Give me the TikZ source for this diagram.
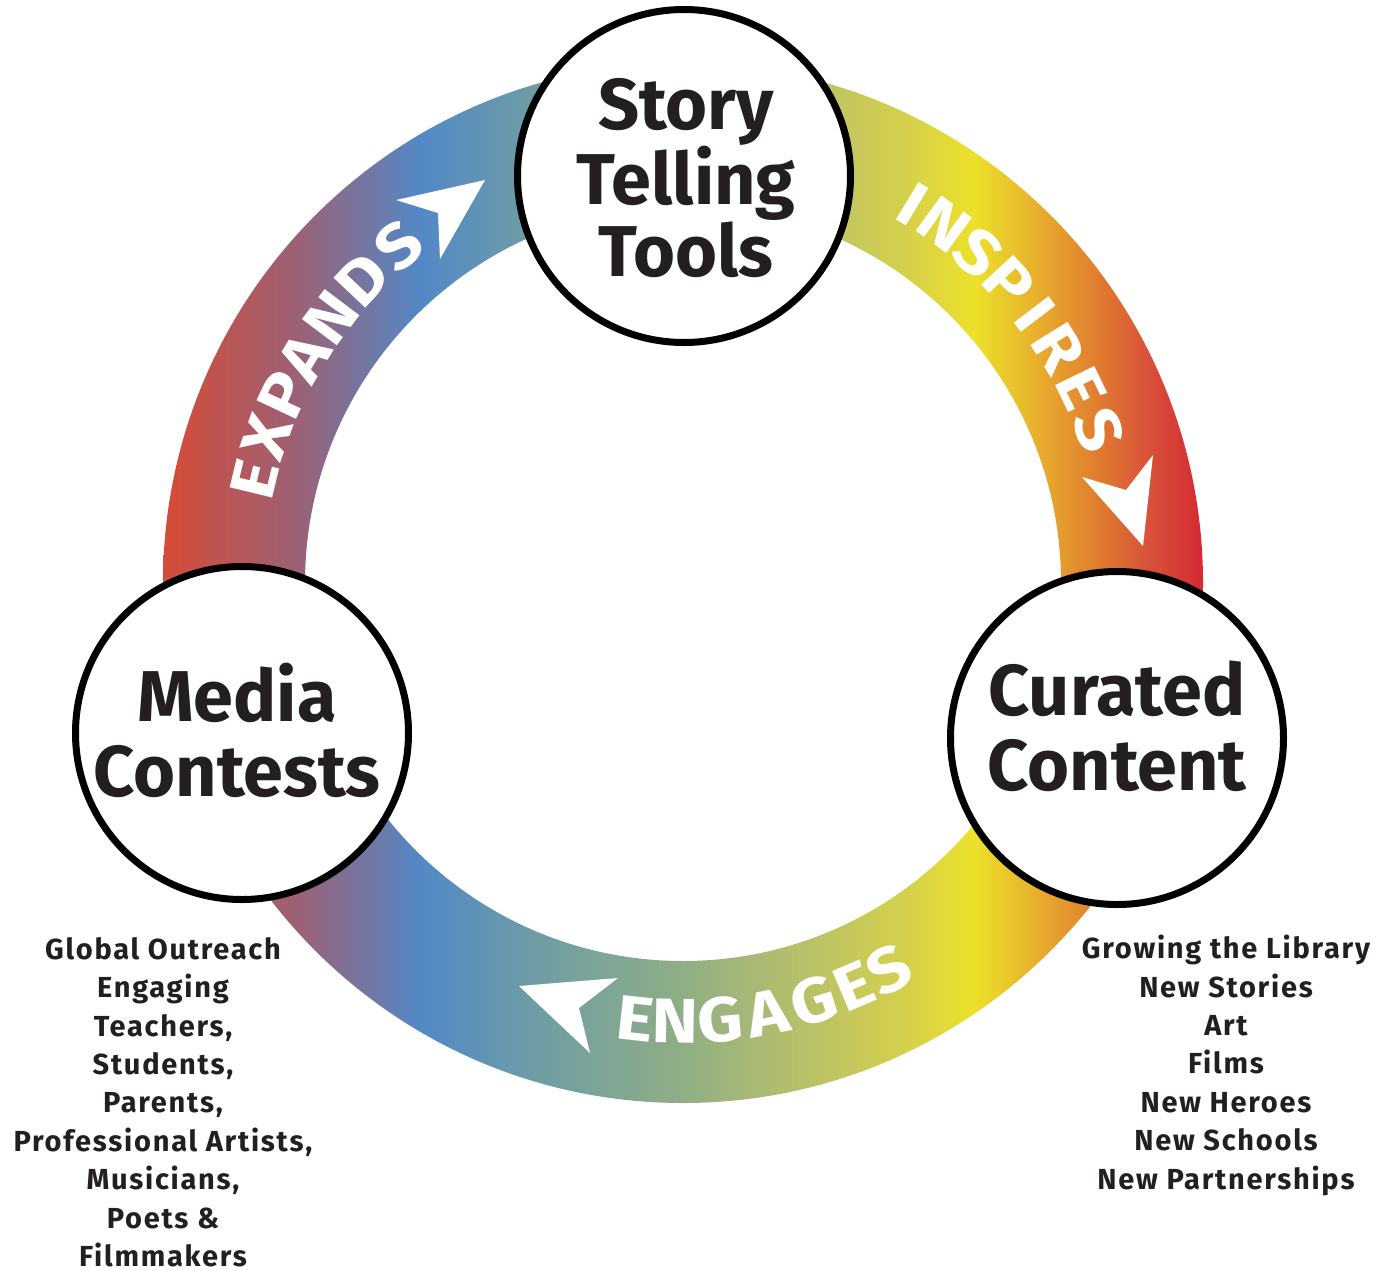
\documentclass[tikz,border=0pt]{standalone}
\usepackage{fontspec}
\setmainfont{Fira Sans}
\newfontfamily\ringfont{Fira Sans}[FakeStretch=1.12]
\newfontfamily\listfont{Fira Sans}[LetterSpace=6]
\definecolor{txt}{HTML}{231F20}
\definecolor{c0}{HTML}{D64B36}
\definecolor{c1}{HTML}{9A6278}
\definecolor{c2}{HTML}{5288C6}
\definecolor{c3}{HTML}{6D9CA6}
\definecolor{c4}{HTML}{8FAE86}
\definecolor{c5}{HTML}{B7C06A}
\definecolor{c6}{HTML}{D3CF4E}
\definecolor{c7}{HTML}{EDE12A}
\definecolor{c8}{HTML}{E6A52E}
\definecolor{c9}{HTML}{E07A2F}
\definecolor{c10}{HTML}{D8503A}
\definecolor{c11}{HTML}{D32A33}
\pgfdeclarehorizontalshading{ringshade}{100bp}{color(0bp)=(c0); color(25bp)=(c0); color(31.6bp)=(c1); color(37.4bp)=(c2); color(42.6bp)=(c3); color(49.8bp)=(c4); color(55.6bp)=(c5); color(60.4bp)=(c6); color(64bp)=(c7); color(67.6bp)=(c8); color(70.05bp)=(c9); color(72.45bp)=(c10); color(75bp)=(c11); color(100bp)=(c11)}
\begin{document}
\begin{tikzpicture}[x=1pt,y=1pt,
  bubble/.style={circle, draw=black, line width=7pt, fill=white, minimum size=333pt, inner sep=0pt},
  bigtext/.style={align=center, text=txt, inner sep=0pt, font=\bfseries\fontsize{72}{#1}\selectfont},
  bigtext/.default=70,
  ringletter/.style={text=white, inner sep=0pt, font=\ringfont\bfseries\fontsize{63}{63}\selectfont},
  listtext/.style={align=center, text=txt, inner sep=0pt, anchor=north, font=\listfont\bfseries\fontsize{29}{38.4}\selectfont},
  arrowhead/.style={fill=white}]
\useasboundingbox (0,0) rectangle (1397,-1270);
\fill[white] (0,0) rectangle (1397,-1270);
\coordinate (ringc) at (683,-583);
% gradient ring
\shade[shading=ringshade, even odd rule] (ringc) circle[radius=520] (ringc) circle[radius=378];
% ring words
\foreach \l/\a [count=\i] in {E/166.4, X/160.6, P/154.8, A/149.2, N/143.0, D/136.6, S/130.2}
  \node[ringletter, rotate={\a-90}] (exp\i) at ([shift={(\a:441)}]ringc) {\l};
\foreach \l/\a [count=\i] in {I/58.8, N/53.9, S/48.3, P/42.7, I/37.3, R/32.0, E/26.0, S/20.2}
  \node[ringletter, rotate={\a-90}] (ins\i) at ([shift={(\a:443)}]ringc) {\l};
\foreach \l/\a [count=\i] in {E/-96.2, N/-91.0, G/-85.1, A/-78.8, G/-72.6, E/-67.0, S/-61.9}
  \node[ringletter, rotate={\a+90}] (eng\i) at ([shift={(\a:438)}]ringc) {\l};
% arrowheads
\fill[arrowhead] (485,-180) -- (396,-200) -- (438,-213) -- (440,-259) -- cycle;
\fill[arrowhead] (1143,-546) -- (1082,-477) -- (1126,-490) -- (1153,-455) -- cycle;
\fill[arrowhead] (519,-986) -- (618,-978) -- (579,-1008) -- (590,-1053) -- cycle;
% circles
\node[bubble] (story) at (684,-176) {};
\node[bubble] (media) at (242,-733) {};
\node[bubble] (curated) at (1117,-738) {};
\node[bigtext] (storytxt) at ([shift={(2,-2)}]story.center) {Story\\Telling\\Tools};
\node[bigtext=75] (mediatxt) at ([shift={(-5,3)}]media.center) {Media\\Contests};
\node[bigtext=75] (curatedtxt) at ([shift={(0,12)}]curated.center) {Curated\\Content};
% lists
\node[listtext] (leftlist) at (163,-937) {Global Outreach\\Engaging\\Teachers,\\Students,\\Parents,\\Professional Artists,\\Musicians,\\Poets \&\\Filmmakers};
\node[listtext] (rightlist) at (1226,-935) {Growing the Library\\New Stories\\Art\\Films\\New Heroes\\New Schools\\New Partnerships};
\end{tikzpicture}
\end{document}
